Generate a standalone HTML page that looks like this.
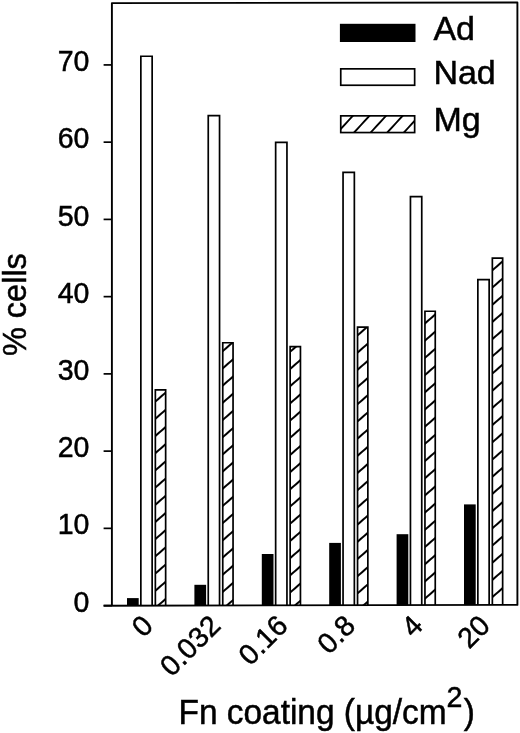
<!DOCTYPE html><html><head><meta charset="utf-8"><style>html,body{margin:0;padding:0;background:#fff;width:520px;height:733px;overflow:hidden}svg{display:block;will-change:transform}text{font-family:"Liberation Sans",sans-serif;fill:#000}</style></head><body><svg width="520" height="733" viewBox="0 0 520 733"><defs><pattern id="h0" patternUnits="userSpaceOnUse" width="40" height="12.976" patternTransform="translate(155.50,590.60) rotate(-41.02)"><path d="M-1,0 H41 M-1,12.976 H41" stroke="#000" stroke-width="1.8" fill="none"/></pattern><pattern id="h1" patternUnits="userSpaceOnUse" width="40" height="12.976" patternTransform="translate(222.60,592.00) rotate(-41.02)"><path d="M-1,0 H41 M-1,12.976 H41" stroke="#000" stroke-width="1.8" fill="none"/></pattern><pattern id="h2" patternUnits="userSpaceOnUse" width="40" height="12.976" patternTransform="translate(289.80,592.80) rotate(-41.02)"><path d="M-1,0 H41 M-1,12.976 H41" stroke="#000" stroke-width="1.8" fill="none"/></pattern><pattern id="h3" patternUnits="userSpaceOnUse" width="40" height="12.976" patternTransform="translate(357.00,593.80) rotate(-41.02)"><path d="M-1,0 H41 M-1,12.976 H41" stroke="#000" stroke-width="1.8" fill="none"/></pattern><pattern id="h4" patternUnits="userSpaceOnUse" width="40" height="12.976" patternTransform="translate(424.60,598.90) rotate(-41.02)"><path d="M-1,0 H41 M-1,12.976 H41" stroke="#000" stroke-width="1.8" fill="none"/></pattern><pattern id="h5" patternUnits="userSpaceOnUse" width="40" height="12.976" patternTransform="translate(492.20,597.20) rotate(-41.02)"><path d="M-1,0 H41 M-1,12.976 H41" stroke="#000" stroke-width="1.8" fill="none"/></pattern><pattern id="hl" patternUnits="userSpaceOnUse" width="40" height="12.219" patternTransform="translate(361.90,124.00) rotate(-47.40)"><path d="M-1,0 H41 M-1,12.219 H41" stroke="#000" stroke-width="1.8" fill="none"/></pattern></defs><rect x="0" y="0" width="520" height="733" fill="#fff"/><rect x="127.00" y="598.10" width="11.70" height="7.54" fill="#000"/><path d="M140.85,605.62 V56.25 H152.15 V605.62 Z" fill="#fff" stroke="none"/><path d="M140.85,605.62 V56.25 H152.15 V605.62" fill="none" stroke="#000" stroke-width="1.7"/><path d="M155.35,605.59 V389.85 H165.65 V605.59 Z" fill="url(#h0)" stroke="none"/><path d="M155.35,605.59 V389.85 H165.65 V605.59" fill="none" stroke="#000" stroke-width="1.7"/><rect x="194.40" y="584.80" width="11.70" height="20.71" fill="#000"/><path d="M208.25,605.49 V115.55 H219.55 V605.49 Z" fill="#fff" stroke="none"/><path d="M208.25,605.49 V115.55 H219.55 V605.49" fill="none" stroke="#000" stroke-width="1.7"/><path d="M222.75,605.46 V342.75 H233.05 V605.46 Z" fill="url(#h1)" stroke="none"/><path d="M222.75,605.46 V342.75 H233.05 V605.46" fill="none" stroke="#000" stroke-width="1.7"/><rect x="261.80" y="554.00" width="11.70" height="51.38" fill="#000"/><path d="M275.65,605.36 V142.35 H286.95 V605.36 Z" fill="#fff" stroke="none"/><path d="M275.65,605.36 V142.35 H286.95 V605.36" fill="none" stroke="#000" stroke-width="1.7"/><path d="M290.15,605.33 V346.65 H300.45 V605.33 Z" fill="url(#h2)" stroke="none"/><path d="M290.15,605.33 V346.65 H300.45 V605.33" fill="none" stroke="#000" stroke-width="1.7"/><rect x="329.20" y="542.90" width="11.70" height="62.35" fill="#000"/><path d="M343.05,605.23 V172.35 H354.35 V605.23 Z" fill="#fff" stroke="none"/><path d="M343.05,605.23 V172.35 H354.35 V605.23" fill="none" stroke="#000" stroke-width="1.7"/><path d="M357.55,605.20 V327.05 H367.85 V605.20 Z" fill="url(#h3)" stroke="none"/><path d="M357.55,605.20 V327.05 H367.85 V605.20" fill="none" stroke="#000" stroke-width="1.7"/><rect x="396.60" y="534.20" width="11.70" height="70.92" fill="#000"/><path d="M410.45,605.10 V196.55 H421.75 V605.10 Z" fill="#fff" stroke="none"/><path d="M410.45,605.10 V196.55 H421.75 V605.10" fill="none" stroke="#000" stroke-width="1.7"/><path d="M424.95,605.07 V311.25 H435.25 V605.07 Z" fill="url(#h4)" stroke="none"/><path d="M424.95,605.07 V311.25 H435.25 V605.07" fill="none" stroke="#000" stroke-width="1.7"/><rect x="464.00" y="504.40" width="11.70" height="100.59" fill="#000"/><path d="M477.85,604.97 V279.65 H489.15 V604.97 Z" fill="#fff" stroke="none"/><path d="M477.85,604.97 V279.65 H489.15 V604.97" fill="none" stroke="#000" stroke-width="1.7"/><path d="M492.35,604.94 V258.15 H502.65 V604.94 Z" fill="url(#h5)" stroke="none"/><path d="M492.35,604.94 V258.15 H502.65 V604.94" fill="none" stroke="#000" stroke-width="1.7"/><path d="M111.9,605.7 L111.9,3.1 L517.4,2.5 L517.4,604.9 L103.6,605.7" fill="none" stroke="#000" stroke-width="1.9" stroke-linejoin="round"/><path d="M103.6,605.60 L112,605.60" stroke="#000" stroke-width="1.7"/><text transform="translate(89.4,611.70) scale(1,1.05)" font-size="28.5" text-anchor="end" stroke="#000" stroke-width="0.5">0</text><path d="M103.6,528.36 L112,528.36" stroke="#000" stroke-width="1.7"/><text transform="translate(89.4,534.46) scale(1,1.05)" font-size="28.5" text-anchor="end" stroke="#000" stroke-width="0.5">10</text><path d="M103.6,451.12 L112,451.12" stroke="#000" stroke-width="1.7"/><text transform="translate(89.4,457.22) scale(1,1.05)" font-size="28.5" text-anchor="end" stroke="#000" stroke-width="0.5">20</text><path d="M103.6,373.88 L112,373.88" stroke="#000" stroke-width="1.7"/><text transform="translate(89.4,379.98) scale(1,1.05)" font-size="28.5" text-anchor="end" stroke="#000" stroke-width="0.5">30</text><path d="M103.6,296.64 L112,296.64" stroke="#000" stroke-width="1.7"/><text transform="translate(89.4,302.74) scale(1,1.05)" font-size="28.5" text-anchor="end" stroke="#000" stroke-width="0.5">40</text><path d="M103.6,219.40 L112,219.40" stroke="#000" stroke-width="1.7"/><text transform="translate(89.4,225.50) scale(1,1.05)" font-size="28.5" text-anchor="end" stroke="#000" stroke-width="0.5">50</text><path d="M103.6,142.16 L112,142.16" stroke="#000" stroke-width="1.7"/><text transform="translate(89.4,148.26) scale(1,1.05)" font-size="28.5" text-anchor="end" stroke="#000" stroke-width="0.5">60</text><path d="M103.6,64.92 L112,64.92" stroke="#000" stroke-width="1.7"/><text transform="translate(89.4,71.02) scale(1,1.05)" font-size="28.5" text-anchor="end" stroke="#000" stroke-width="0.5">70</text><text transform="translate(154.75,627.40) rotate(-45)" font-size="28.5" text-anchor="end" stroke="#000" stroke-width="0.5">0</text><text transform="translate(222.15,627.40) rotate(-45)" font-size="28.5" text-anchor="end" stroke="#000" stroke-width="0.5">0.032</text><text transform="translate(289.55,627.40) rotate(-45)" font-size="28.5" text-anchor="end" stroke="#000" stroke-width="0.5">0.16</text><text transform="translate(356.95,627.40) rotate(-45)" font-size="28.5" text-anchor="end" stroke="#000" stroke-width="0.5">0.8</text><text transform="translate(424.35,627.40) rotate(-45)" font-size="28.5" text-anchor="end" stroke="#000" stroke-width="0.5">4</text><text transform="translate(491.75,627.40) rotate(-45)" font-size="28.5" text-anchor="end" stroke="#000" stroke-width="0.5">20</text><rect x="339.9" y="23.8" width="75.6" height="18.20" fill="#000"/><text x="433.4" y="39.8" font-size="34" stroke="#000" stroke-width="0.5">Ad</text><rect x="340.75" y="68.85" width="73.89999999999999" height="16.40" fill="#fff" stroke="#000" stroke-width="1.7"/><text x="433.4" y="83.8" font-size="34" stroke="#000" stroke-width="0.5">Nad</text><rect x="340.75" y="115.85" width="73.89999999999999" height="16.70" fill="url(#hl)" stroke="#000" stroke-width="1.7"/><text x="433.4" y="130.7" font-size="34" stroke="#000" stroke-width="0.5">Mg</text><text transform="translate(26.3,304.6) rotate(-90) scale(1.0,1)" font-size="32.5" text-anchor="middle" stroke="#000" stroke-width="0.5">% cells</text><text transform="translate(178.5,724.2) scale(0.969,1)" x="0" y="0" font-size="34.5" stroke="#000" stroke-width="0.5">Fn coating (µg/cm<tspan font-size="29.5" dy="-17">2</tspan><tspan dy="17" dx="1.2">)</tspan></text></svg></body></html>
